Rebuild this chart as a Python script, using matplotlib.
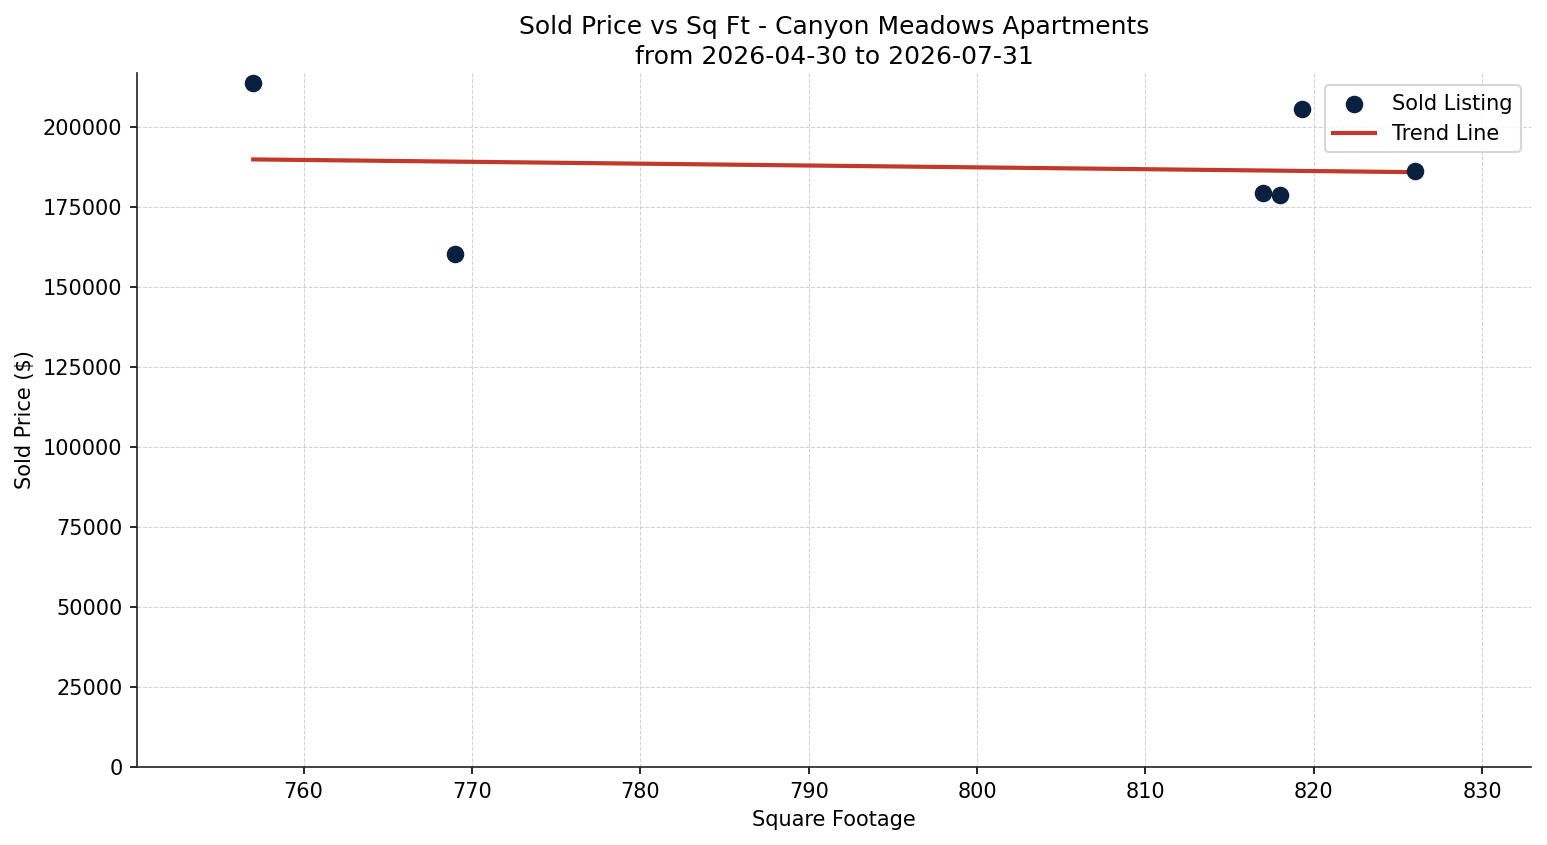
import numpy as np
import matplotlib
matplotlib.use("Agg")
import matplotlib.pyplot as plt

sqft = [757, 769, 817, 818, 819.3, 826]
price = [213600, 160200, 179400, 178600, 205700, 186100]
title = "Sold Price vs Sq Ft - Canyon Meadows Apartments\nfrom 2026-04-30 to 2026-07-31"

fig = plt.figure(figsize=(1547/150, 845/150), dpi=150)
ax = fig.add_axes([137/1547, 1-767/845, (1531-137)/1547, (767-73)/845])

ax.scatter(sqft, price, s=55, color="#0b2040", label="Sold Listing", zorder=3)
coef = np.polyfit(sqft, price, 1)
xs = np.array([min(sqft), max(sqft)])
ax.plot(xs, np.polyval(coef, xs), color="#c0392b", lw=2, label="Trend Line", zorder=2)

rng = max(sqft) - min(sqft)
ax.set_xlim(min(sqft) - 0.1*rng, max(sqft) + 0.1*rng)
ax.set_ylim(0, max(price)*1.015)
ax.set_xticks([760, 770, 780, 790, 800, 810, 820, 830])
ax.set_yticks(np.arange(0, 200001, 25000))
ax.ticklabel_format(axis="y", style="plain")
ax.grid(True, linestyle="--", linewidth=0.5, color="#cccccc", alpha=0.9)
ax.set_axisbelow(True)
for s in ["top", "right"]:
    ax.spines[s].set_visible(False)
for s in ["left", "bottom"]:
    ax.spines[s].set_color("#222222")
ax.set_xlabel("Square Footage")
ax.set_ylabel("Sold Price ($)")
ax.set_title(title, fontsize=12, linespacing=1.3, pad=4.5)
ax.legend(loc="upper right", bbox_to_anchor=(1.0, 1 - 2/694))
fig.savefig("out.png", dpi=150)
